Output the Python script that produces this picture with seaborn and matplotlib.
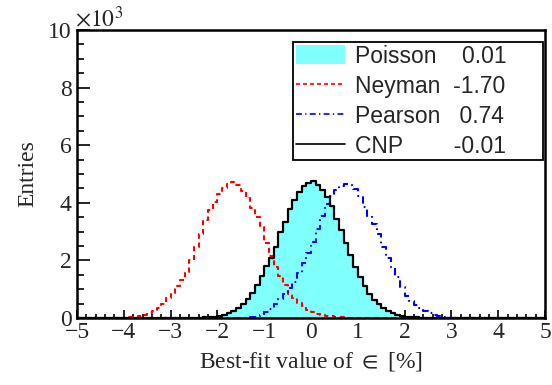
import numpy as np
import pandas as pd
import matplotlib
matplotlib.use("Agg")
import matplotlib.pyplot as plt
from matplotlib.lines import Line2D
from matplotlib.patches import Patch
from matplotlib.ticker import MultipleLocator
import seaborn as sns

# histogram binning: 100 bins of width 0.1 between -5 and 5
BIN_EDGES = [round(-5 + 0.1 * i, 2) for i in range(101)]

# left edge of the first filled bin + bin contents (units of 10^3 entries)
POISSON_START = -2.4
POISSON_VALUES = [0.01, 0.02, 0.03, 0.05, 0.08, 0.12, 0.17, 0.25, 0.36, 0.50,
                  0.66, 0.88, 1.13, 1.45, 1.80, 2.12, 2.47, 2.98, 3.35, 3.78,
                  4.10, 4.38, 4.60, 4.70, 4.74, 4.62, 4.45, 4.20, 3.88, 3.45,
                  3.05, 2.62, 2.20, 1.76, 1.44, 1.10, 0.84, 0.64, 0.49, 0.36,
                  0.26, 0.18, 0.12, 0.08, 0.05, 0.03, 0.02, 0.01]

CNP_START = -2.4
CNP_VALUES = [0.01, 0.02, 0.03, 0.05, 0.08, 0.12, 0.17, 0.25, 0.36, 0.50,
              0.66, 0.88, 1.13, 1.45, 1.80, 2.10, 2.45, 2.98, 3.35, 3.78,
              4.10, 4.38, 4.60, 4.68, 4.76, 4.62, 4.45, 4.20, 3.88, 3.45,
              3.05, 2.62, 2.20, 1.76, 1.44, 1.10, 0.84, 0.64, 0.49, 0.36,
              0.26, 0.18, 0.12, 0.08, 0.05, 0.03, 0.02, 0.01]

NEYMAN_START = -3.9
NEYMAN_VALUES = [0.02, 0.04, 0.07, 0.10, 0.16, 0.24, 0.35, 0.48, 0.68, 0.88,
                 1.10, 1.32, 1.60, 2.00, 2.45, 2.92, 3.40, 3.76, 4.03, 4.30,
                 4.50, 4.65, 4.72, 4.62, 4.42, 4.15, 3.82, 3.52, 3.15, 2.62,
                 2.15, 1.78, 1.45, 1.15, 0.82, 0.68, 0.52, 0.40, 0.28, 0.20,
                 0.15, 0.11, 0.08, 0.06, 0.04, 0.03, 0.02, 0.01]

PEARSON_START = -1.3
PEARSON_VALUES = [0.02, 0.05, 0.10, 0.20, 0.32, 0.48, 0.66, 0.85, 1.05, 1.25,
                  1.55, 1.90, 2.25, 2.65, 3.10, 3.55, 3.95, 4.25, 4.45, 4.58,
                  4.65, 4.62, 4.48, 4.22, 3.85, 3.55, 3.28, 2.92, 2.45, 2.10,
                  1.75, 1.42, 1.08, 0.78, 0.58, 0.45, 0.34, 0.24, 0.16, 0.11,
                  0.07, 0.04, 0.02, 0.01]

LEGEND_LABELS = ["Poisson    0.01", "Neyman  -1.70", "Pearson   0.74", "CNP        -0.01"]

CYAN = "#80ffff"
DASHED = (0, (2.4, 1.8))
DASHDOT = (0, (3.5, 2.0, 0.8, 2.0))


def hist_df(start, values):
    edges = np.array(BIN_EDGES)
    counts = np.zeros(len(edges) - 1)
    i0 = int(round((start - edges[0]) / 0.1))
    counts[i0:i0 + len(values)] = values
    return pd.DataFrame({"x": (edges[:-1] + edges[1:]) / 2, "w": counts})


def main():
    sns.set_theme(style="white")
    plt.rcParams["font.family"] = ["Liberation Serif", "DejaVu Serif"]
    plt.rcParams["mathtext.fontset"] = "stix"

    fig = plt.figure(figsize=(5.52, 3.85), dpi=100)
    ax = fig.add_axes([0.1395, 0.174, 0.848, 0.748])

    sns.histplot(data=hist_df(POISSON_START, POISSON_VALUES), x="x", weights="w",
                 bins=BIN_EDGES, element="step", fill=True, color=CYAN,
                 alpha=1, linewidth=0, ax=ax)
    sns.histplot(data=hist_df(NEYMAN_START, NEYMAN_VALUES), x="x", weights="w",
                 bins=BIN_EDGES, element="step", fill=False, color="red",
                 linestyle=DASHED, linewidth=1.5, ax=ax)
    sns.histplot(data=hist_df(PEARSON_START, PEARSON_VALUES), x="x", weights="w",
                 bins=BIN_EDGES, element="step", fill=False, color="blue",
                 linestyle=DASHDOT, linewidth=1.5, ax=ax)
    sns.histplot(data=hist_df(CNP_START, CNP_VALUES), x="x", weights="w",
                 bins=BIN_EDGES, element="step", fill=False, color="black",
                 linewidth=1.6, ax=ax)

    ax.set_xlim(-5, 5)
    ax.set_ylim(0, 10)
    ax.xaxis.set_major_locator(MultipleLocator(1))
    ax.xaxis.set_minor_locator(MultipleLocator(0.2))
    ax.yaxis.set_major_locator(MultipleLocator(2))
    ax.yaxis.set_minor_locator(MultipleLocator(0.5))
    ax.tick_params(axis="x", which="major", direction="in", length=6, width=1.4,
                   labelsize=17, pad=3, top=False, bottom=True)
    ax.tick_params(axis="x", which="minor", direction="in", length=3, width=1.4,
                   top=False, bottom=True)
    ax.tick_params(axis="y", which="major", direction="in", length=9.5, width=1.4,
                   labelsize=17, pad=4, right=False, left=True)
    ax.tick_params(axis="y", which="minor", direction="in", length=4.7, width=1.4,
                   right=False, left=True)
    for side in ax.spines.values():
        side.set_linewidth(1.8)
        side.set_color("black")

    ax.set_xlabel(r"Best-fit value of $\in$ [%]", fontsize=17, labelpad=5)
    ax.set_ylabel("Entries", fontsize=17, labelpad=7)
    fig.text(0.135, 0.93, r"$\times10^{3}$", fontsize=17, ha="left", va="baseline")

    handles = [
        Patch(facecolor=CYAN, edgecolor="none"),
        Line2D([], [], color="red", linestyle=DASHED, linewidth=1.2),
        Line2D([], [], color="blue", linestyle=DASHDOT, linewidth=1.2),
        Line2D([], [], color="black", linewidth=1.2),
    ]
    leg = ax.legend(handles, LEGEND_LABELS, loc="upper left",
                    bbox_to_anchor=(0.4615, 0.549, 0.5345, 0.409), mode="expand",
                    borderaxespad=0, borderpad=0.12, handlelength=2.15,
                    handleheight=0.9, handletextpad=0.45, labelspacing=0.3,
                    fancybox=False, framealpha=1,
                    prop={"family": ["Liberation Sans", "DejaVu Sans"], "size": 16.5})
    leg.get_frame().set_edgecolor("black")
    leg.get_frame().set_linewidth(1.3)

    fig.savefig("out.png", dpi=100)


if __name__ == "__main__":
    main()
